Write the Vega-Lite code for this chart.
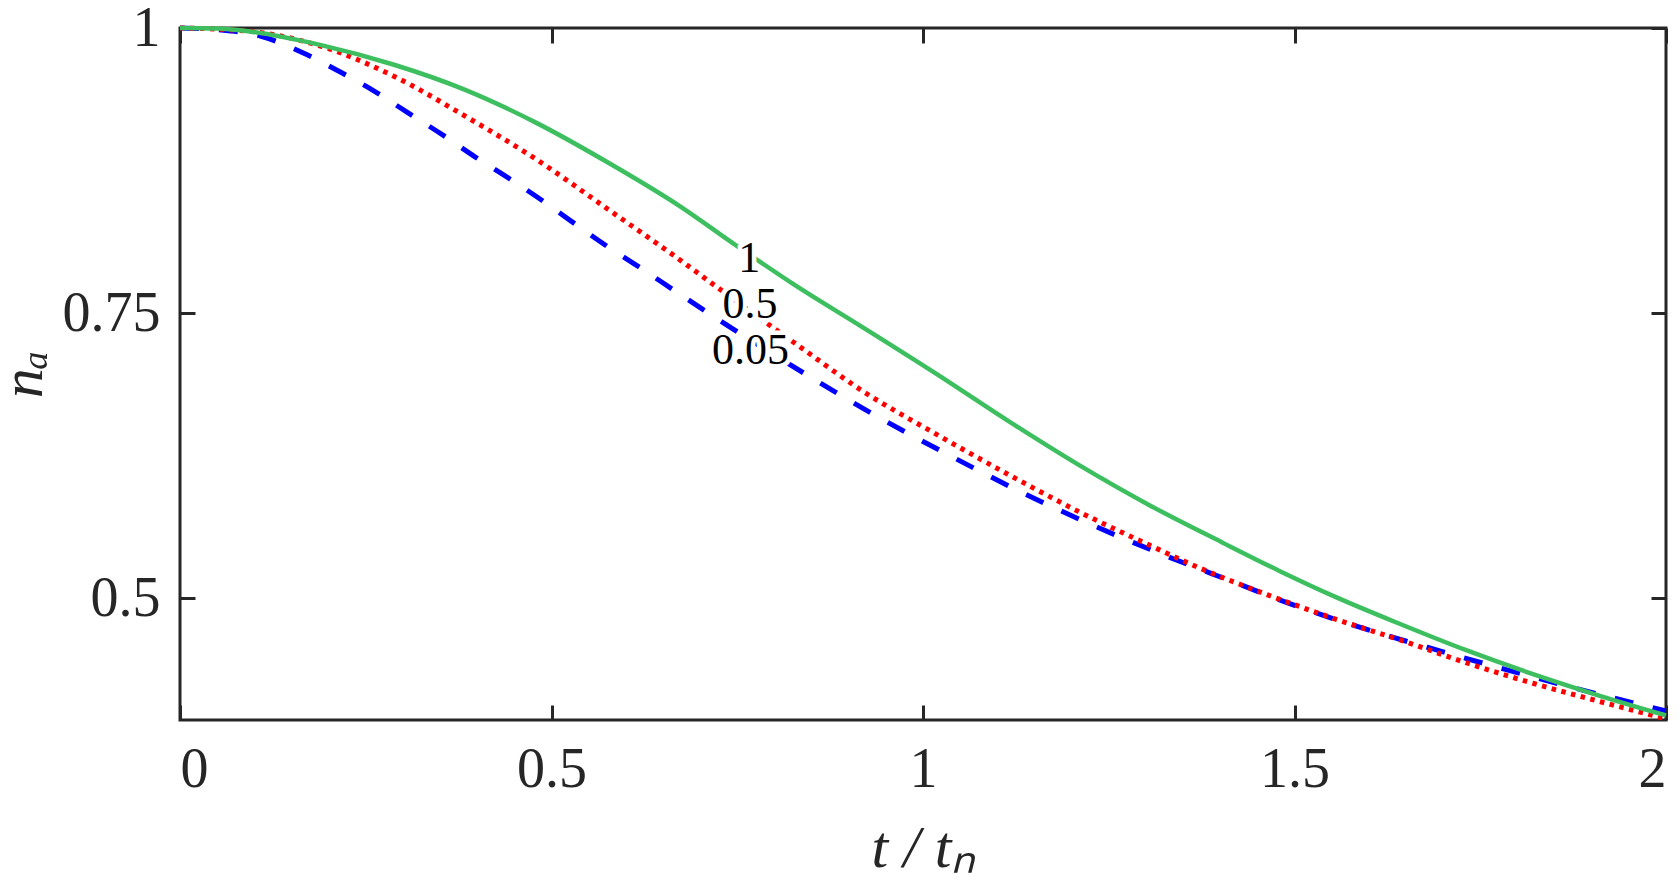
{
  "$schema": "https://vega.github.io/schema/vega-lite/v6.json",
  "width": 1486,
  "height": 692,
  "autosize": {"type": "none"},
  "padding": {"left": 180, "top": 28, "right": 14, "bottom": 160},
  "background": "white",
  "config": {
    "view": {"stroke": "#262626", "strokeWidth": 3},
    "axis": {
      "domain": false,
      "grid": false,
      "tickColor": "#262626",
      "tickWidth": 3,
      "tickSize": -15,
      "labelFont": "Liberation Serif",
      "labelFontSize": 56,
      "labelColor": "#262626",
      "titleFont": "Liberation Serif",
      "titleFontStyle": "italic",
      "titleFontWeight": "normal",
      "titleFontSize": 60,
      "titleColor": "#262626"
    }
  },
  "datasets": {
    "curves": [
      {"t": 0, "n": 1, "s": "1"},
      {"t": 0.05, "n": 0.9995, "s": "1"},
      {"t": 0.094, "n": 0.997, "s": "1"},
      {"t": 0.19, "n": 0.985, "s": "1"},
      {"t": 0.287, "n": 0.968, "s": "1"},
      {"t": 0.383, "n": 0.946, "s": "1"},
      {"t": 0.479, "n": 0.917, "s": "1"},
      {"t": 0.576, "n": 0.882, "s": "1"},
      {"t": 0.672, "n": 0.844, "s": "1"},
      {"t": 0.749, "n": 0.809, "s": "1"},
      {"t": 0.824, "n": 0.776, "s": "1"},
      {"t": 0.92, "n": 0.737, "s": "1"},
      {"t": 1.017, "n": 0.697, "s": "1"},
      {"t": 1.113, "n": 0.656, "s": "1"},
      {"t": 1.209, "n": 0.617, "s": "1"},
      {"t": 1.306, "n": 0.581, "s": "1"},
      {"t": 1.402, "n": 0.549, "s": "1"},
      {"t": 1.479, "n": 0.524, "s": "1"},
      {"t": 1.555, "n": 0.501, "s": "1"},
      {"t": 1.643, "n": 0.477, "s": "1"},
      {"t": 1.732, "n": 0.454, "s": "1"},
      {"t": 1.822, "n": 0.433, "s": "1"},
      {"t": 1.912, "n": 0.414, "s": "1"},
      {"t": 2.0, "n": 0.397, "s": "1"},

      {"t": 0, "n": 1, "s": "0.5"},
      {"t": 0.05, "n": 0.999, "s": "0.5"},
      {"t": 0.108, "n": 0.996, "s": "0.5"},
      {"t": 0.19, "n": 0.984, "s": "0.5"},
      {"t": 0.287, "n": 0.958, "s": "0.5"},
      {"t": 0.383, "n": 0.923, "s": "0.5"},
      {"t": 0.479, "n": 0.885, "s": "0.5"},
      {"t": 0.576, "n": 0.841, "s": "0.5"},
      {"t": 0.672, "n": 0.797, "s": "0.5"},
      {"t": 0.72, "n": 0.774, "s": "0.5"},
      {"t": 0.833, "n": 0.721, "s": "0.5"},
      {"t": 0.92, "n": 0.681, "s": "0.5"},
      {"t": 1.017, "n": 0.644, "s": "0.5"},
      {"t": 1.113, "n": 0.609, "s": "0.5"},
      {"t": 1.209, "n": 0.576, "s": "0.5"},
      {"t": 1.306, "n": 0.546, "s": "0.5"},
      {"t": 1.3735, "n": 0.526, "s": "0.5"},
      {"t": 1.463, "n": 0.503, "s": "0.5"},
      {"t": 1.553, "n": 0.482, "s": "0.5"},
      {"t": 1.643, "n": 0.463, "s": "0.5"},
      {"t": 1.732, "n": 0.443, "s": "0.5"},
      {"t": 1.822, "n": 0.425, "s": "0.5"},
      {"t": 1.912, "n": 0.409, "s": "0.5"},
      {"t": 2.0, "n": 0.394, "s": "0.5"},

      {"t": 0, "n": 1, "s": "0.05"},
      {"t": 0.05, "n": 0.9985, "s": "0.05"},
      {"t": 0.108, "n": 0.993, "s": "0.05"},
      {"t": 0.166, "n": 0.978, "s": "0.05"},
      {"t": 0.214, "n": 0.962, "s": "0.05"},
      {"t": 0.263, "n": 0.944, "s": "0.05"},
      {"t": 0.306, "n": 0.926, "s": "0.05"},
      {"t": 0.354, "n": 0.906, "s": "0.05"},
      {"t": 0.397, "n": 0.887, "s": "0.05"},
      {"t": 0.443, "n": 0.868, "s": "0.05"},
      {"t": 0.489, "n": 0.848, "s": "0.05"},
      {"t": 0.532, "n": 0.828, "s": "0.05"},
      {"t": 0.576, "n": 0.808, "s": "0.05"},
      {"t": 0.621, "n": 0.789, "s": "0.05"},
      {"t": 0.667, "n": 0.769, "s": "0.05"},
      {"t": 0.711, "n": 0.75, "s": "0.05"},
      {"t": 0.848, "n": 0.694, "s": "0.05"},
      {"t": 0.939, "n": 0.659, "s": "0.05"},
      {"t": 1.036, "n": 0.625, "s": "0.05"},
      {"t": 1.132, "n": 0.593, "s": "0.05"},
      {"t": 1.228, "n": 0.564, "s": "0.05"},
      {"t": 1.327, "n": 0.537, "s": "0.05"},
      {"t": 1.426, "n": 0.512, "s": "0.05"},
      {"t": 1.477, "n": 0.499, "s": "0.05"},
      {"t": 1.58, "n": 0.476, "s": "0.05"},
      {"t": 1.683, "n": 0.456, "s": "0.05"},
      {"t": 1.786, "n": 0.437, "s": "0.05"},
      {"t": 1.889, "n": 0.419, "s": "0.05"},
      {"t": 2.0, "n": 0.401, "s": "0.05"}
    ],
    "labels": [
      {"t": 0.766, "n": 0.797, "label": "1"},
      {"t": 0.767, "n": 0.757, "label": "0.5"},
      {"t": 0.768, "n": 0.717, "label": "0.05"}
    ]
  },
  "resolve": {"axis": {"x": "independent", "y": "independent"}},
  "layer": [
    {
      "data": {"name": "curves"},
      "transform": [{"filter": "datum.s === '0.05'"}],
      "mark": {"type": "line", "color": "#0000FF", "strokeWidth": 5, "strokeDash": [19, 20], "strokeCap": "butt", "interpolate": "monotone"},
      "encoding": {
        "x": {"field": "t", "type": "quantitative", "scale": {"domain": [0, 2], "nice": false, "zero": false},
              "axis": {"orient": "bottom", "values": [0, 0.5, 1, 1.5, 2], "format": ".1~f", "labelPadding": 37, "title": "t / tₙ", "titlePadding": 22}},
        "y": {"field": "n", "type": "quantitative", "scale": {"domain": [0.393, 1], "nice": false, "zero": false},
              "axis": {"orient": "left", "values": [0.5, 0.75, 1], "format": ".2~f", "labelPadding": 35, "title": "nₐ", "titlePadding": 8}}
      }
    },
    {
      "data": {"name": "curves"},
      "transform": [{"filter": "datum.s === '0.5'"}],
      "mark": {"type": "line", "color": "#FF0000", "strokeWidth": 5, "strokeDash": [4.5, 5.5], "strokeCap": "butt", "interpolate": "monotone"},
      "encoding": {
        "x": {"field": "t", "type": "quantitative",
              "axis": {"orient": "top", "values": [0, 0.5, 1, 1.5, 2], "labels": false, "title": null}},
        "y": {"field": "n", "type": "quantitative",
              "axis": {"orient": "right", "values": [0.5, 0.75, 1], "labels": false, "title": null}}
      }
    },
    {
      "data": {"name": "curves"},
      "transform": [{"filter": "datum.s === '1'"}],
      "mark": {"type": "line", "color": "#3DBF60", "strokeWidth": 4.5, "interpolate": "monotone"},
      "encoding": {
        "x": {"field": "t", "type": "quantitative", "axis": null},
        "y": {"field": "n", "type": "quantitative", "axis": null}
      }
    },
    {
      "data": {"name": "labels"},
      "mark": {"type": "text", "font": "Liberation Serif", "fontSize": 44, "align": "center", "baseline": "middle", "stroke": "white", "strokeWidth": 9, "fill": "white"},
      "encoding": {
        "x": {"field": "t", "type": "quantitative", "axis": null},
        "y": {"field": "n", "type": "quantitative", "axis": null},
        "text": {"field": "label"}
      }
    },
    {
      "data": {"name": "labels"},
      "mark": {"type": "text", "font": "Liberation Serif", "fontSize": 44, "align": "center", "baseline": "middle", "color": "#000000"},
      "encoding": {
        "x": {"field": "t", "type": "quantitative", "axis": null},
        "y": {"field": "n", "type": "quantitative", "axis": null},
        "text": {"field": "label"}
      }
    }
  ]
}
